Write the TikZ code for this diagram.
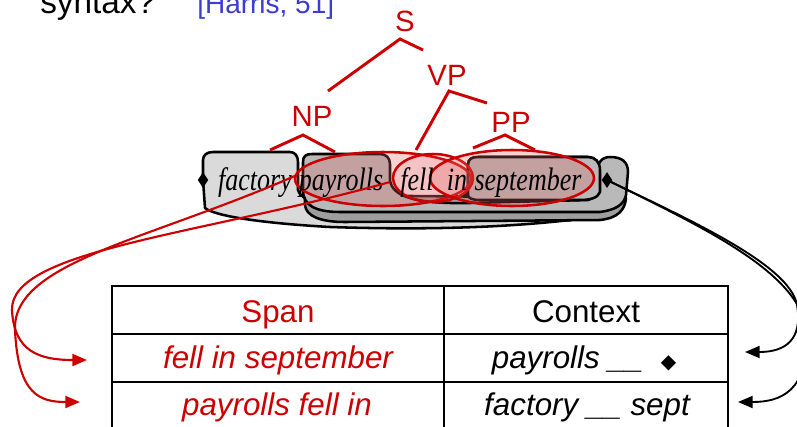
\documentclass[tikz,border=0pt]{standalone}
\usepackage{fontspec}
\setmainfont{Liberation Sans}
\newfontfamily\wordfont{Liberation Serif}
\newfontfamily\djfont{DejaVu Sans}
\usetikzlibrary{arrows.meta,shapes.geometric}
\definecolor{tred}{RGB}{204,0,0}
\definecolor{tblue}{RGB}{60,60,210}
\definecolor{lgray}{RGB}{218,218,218}
\definecolor{mgray}{RGB}{185,185,185}
\definecolor{dgray}{RGB}{158,158,158}
\definecolor{pinkf}{RGB}{228,100,100}
\begin{document}
\begin{tikzpicture}[x=0.75pt,y=-0.75pt,
  blob/.style={draw=black, line width=1.9pt, line join=round},
  treeline/.style={draw=tred, line width=2.2pt},
  spanell/.style={draw=tred, line width=1.9pt, fill=pinkf, fill opacity=0.28},
  redarrow/.style={draw=tred, line width=1.6pt, -{Triangle[length=11pt,width=9pt]}},
  blackarrow/.style={draw=black, line width=1.4pt, -{Triangle[length=11pt,width=9pt]}},
  lbl/.style={text=tred, font=\fontsize{22}{26}\selectfont, inner sep=0},
  word/.style={font=\wordfont\itshape\fontsize{19.5}{22}\selectfont, inner sep=0, anchor=base},
  cell/.style={font=\fontsize{23.5}{28}\selectfont, inner sep=0, anchor=base},
  tline/.style={line width=1.6pt},
  dia/.style={diamond, fill=black, inner sep=0, minimum width=8pt, minimum height=12pt}
]
\useasboundingbox (0,0) rectangle (797,426);

% title
\node[anchor=base west, inner sep=0, font=\fontsize{25}{30}\selectfont] (title) at (40,13) {syntax?};
\node[anchor=base west, inner sep=0, text=tblue, font=\fontsize{21}{26}\selectfont] (cite) at (197,13) {[Harris, 51]};

% blob A: factory __ september
\path[blob, fill=lgray] (203,180) -- (203,160) .. controls (203,155) and (207,152) .. (213,152)
  -- (290,152) .. controls (295,152) and (298,156) .. (298,162) -- (298,190)
  .. controls (300,200) and (320,205) .. (360,206) -- (430,207)
  .. controls (455,205) and (468,200) .. (468,185) -- (468,165)
  .. controls (468,159) and (472,157) .. (478,157) -- (588,157)
  .. controls (595,157) and (600,162) .. (600,170) -- (600,195)
  .. controls (600,210) and (590,218) .. (570,220)
  .. controls (500,228) and (420,230) .. (330,227)
  .. controls (260,223) and (215,216) .. (205,208) -- cycle;

% blob C: shadow
\path[blob, fill=dgray] (305,195) -- (305,205) .. controls (306,216) and (320,222) .. (345,222)
  -- (600,220) .. controls (618,218) and (625,210) .. (626,198) -- cycle;

% blob B: payrolls __ diamond
\path[blob, fill=mgray] (303,180) -- (303,162) .. controls (303,156) and (306,154) .. (312,154)
  -- (380,154) .. controls (386,154) and (390,158) .. (390,164) -- (390,180)
  .. controls (392,198) and (420,204) .. (470,203) -- (588,200)
  .. controls (595,198) and (597,190) .. (597,175)
  .. controls (597,162) and (602,157) .. (610,157)
  .. controls (622,157) and (628,162) .. (628,172) -- (626,195)
  .. controls (624,205) and (615,210) .. (600,212) -- (340,212)
  .. controls (315,212) and (303,205) .. (303,190) -- cycle;

% september part of blob A, over B
\path[blob, fill=mgray] (468,195) -- (468,165)
  .. controls (468,159) and (472,157) .. (478,157) -- (588,157)
  .. controls (595,157) and (600,162) .. (600,170) -- (600,192)
  .. controls (598,198) and (590,200) .. (580,200) -- (480,200)
  .. controls (472,200) and (468,198) .. (468,195) -- cycle;

% span ellipses
\path[spanell] (383,179) ellipse [x radius=88, y radius=27];
\path[spanell, fill opacity=0.15] (433,178) ellipse [x radius=40, y radius=24];
\path[spanell] (512,178) ellipse [x radius=82, y radius=28];

% words
\node[word] (wf) at (255,190) {\scalebox{1}[1.25]{factory}};
\node[word] (wp) at (341,190) {\scalebox{1}[1.25]{payrolls}};
\node[word] (wfe) at (417,190) {\scalebox{1}[1.25]{fell}};
\node[word] (wi) at (457,190) {\scalebox{1}[1.25]{in}};
\node[word] (ws) at (528,190) {\scalebox{1}[1.25]{september}};
\node[dia] (dl) at (203,180) {};
\node[dia] (dr) at (607,180) {};

% tree
\node[lbl] (S) at (405,21) {S};
\node[lbl] (VP) at (447,75) {VP};
\node[lbl] (NP) at (312,116) {NP};
\node[lbl] (PP) at (511,122) {PP};
\coordinate (sa) at (400,39);
\coordinate (va) at (449,91);
\coordinate (na) at (303,135);
\coordinate (pa) at (505,135);
\draw[treeline] (328,91) -- (sa) -- (423,50);
\draw[treeline] (416,150) -- (va) -- (487,103);
\draw[treeline] (270,150) -- (na) -- (335,152);
\draw[treeline] (473,148) -- (pa) -- (535,150);

% table
\draw[tline] (112,430) -- (112,286) -- (728,286) -- (728,430);
\draw[tline] (444,286) -- (444,430);
\draw[tline] (112,334) -- (728,334);
\draw[tline] (112,382) -- (728,382);
\node[cell, text=tred] (hspan) at (278,322) {Span};
\node[cell] (hctx) at (586,322) {Context};
\node[cell, text=tred] (s1) at (278,368) {\itshape fell in september};
\node[cell] (c1) at (584,368) {\itshape payrolls \_\_\ \ {\djfont\fontsize{15}{16}\selectfont ◆}};
\node[cell, text=tred] (s2) at (277,415) {\itshape payrolls fell in};
\node[cell] (c2) at (587,415) {\itshape factory \_\_ sept};

% connectors
\coordinate (ra) at (297,175);
\coordinate (rb) at (390,182);
\coordinate (t1) at (87,360);
\coordinate (t2) at (80,402);
\coordinate (t3) at (745,352);
\coordinate (t4) at (738,402);
\draw[redarrow] (rb) .. controls (200,235) and (10,250) .. (12,310) .. controls (14,352) and (40,360) .. (t1);
\draw[redarrow] (ra) .. controls (150,240) and (12,262) .. (15,330) .. controls (18,395) and (40,402) .. (t2);
\draw[blackarrow] (dr.center) .. controls (690,220) and (790,265) .. (797,305) .. controls (803,340) and (785,352) .. (t3);
\draw[blackarrow] (dr.center) .. controls (700,226) and (800,272) .. (806,330) .. controls (810,392) and (780,402) .. (t4);
\end{tikzpicture}
\end{document}
